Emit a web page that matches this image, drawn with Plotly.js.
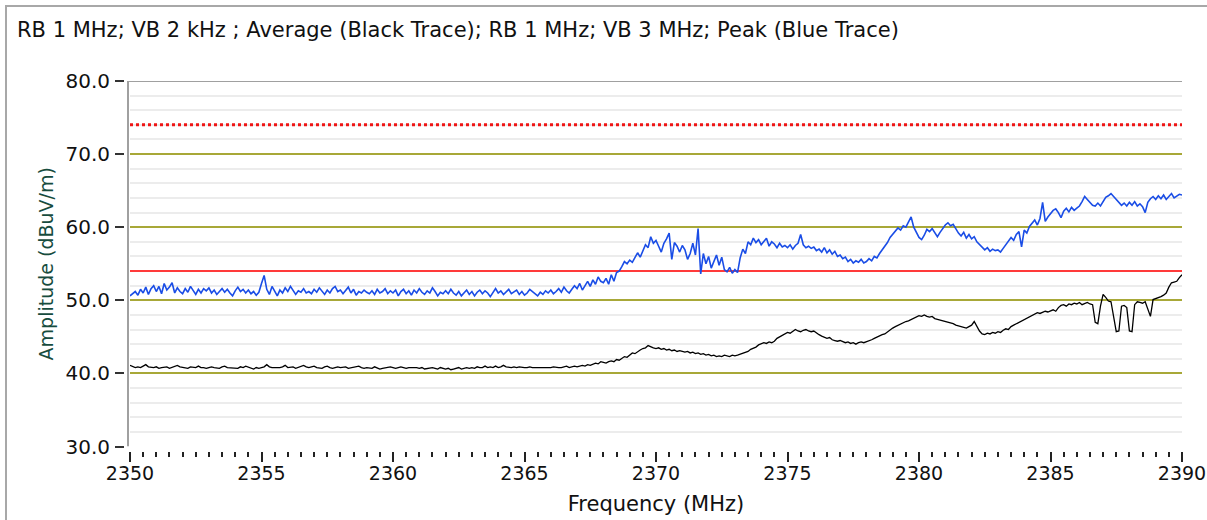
<!DOCTYPE html>
<html>
<head>
<meta charset="utf-8">
<script src="https://cdn.plot.ly/plotly-3.0.1.min.js"></script>
<style>
html, body { margin: 0; padding: 0; background: #ffffff; }
#chart { width: 1207px; height: 520px; }
</style>
</head>
<body>
<div id="chart"></div>
<script>
// Frequency grid (MHz) for both traces: 2350.0 ... 2390.0 in 0.1 MHz steps
const freqStart = 2350.0;
const freqStep = 0.1;

// Peak trace (blue), dBuV/m, one row per MHz
const peakBlue = [
  50.6, 50.9, 51.2, 50.7, 51.5, 51.0, 51.8, 50.8, 51.6, 52.0,
  51.2, 51.9, 50.9, 52.3, 51.4, 51.8, 52.4, 51.0, 51.7, 51.2,
  50.9, 51.6, 51.1, 51.9, 51.3, 50.8, 51.5, 51.0, 51.6, 51.3,
  51.7, 51.0, 51.4, 50.8, 51.2, 51.6, 51.1, 51.5, 51.0, 50.6,
  51.3, 51.8, 51.2, 51.5, 51.0, 51.4, 50.9, 51.2, 50.7, 51.1,
  52.3, 53.4, 51.5, 50.8, 51.9, 51.2, 50.6, 51.4, 51.0, 51.7,
  51.2, 51.9, 51.4, 50.8, 51.3, 51.1, 51.6, 51.0, 51.2, 50.9,
  51.5, 51.1, 51.7, 51.3, 50.8, 51.4, 51.0, 51.6, 51.9, 51.2,
  51.4, 50.9, 51.3, 51.8, 51.0, 51.5, 50.7, 51.2, 51.0, 51.4,
  51.1, 50.9, 51.3, 50.8, 51.5, 51.0, 51.2, 51.6, 50.9, 51.3,
  51.0, 51.4, 50.6, 51.2, 51.5, 50.9, 51.3, 50.7, 51.4, 51.0,
  51.6, 51.1, 50.8, 51.3, 51.0, 51.7, 51.2, 50.6, 51.1, 50.9,
  51.3, 50.9, 51.5, 51.0, 50.7, 51.2, 50.6, 51.0, 51.4, 50.8,
  51.2, 50.6, 51.1, 51.4, 50.9, 51.3, 51.0, 50.5, 51.1, 51.6,
  51.0, 51.3, 50.8, 51.2, 51.5, 50.9, 51.1, 51.4, 50.8, 51.2,
  50.7, 51.0, 51.5, 51.2, 50.9, 50.6, 51.1, 50.8, 51.3, 51.0,
  51.4, 50.9, 51.2, 51.6, 51.1, 51.8, 51.3, 51.0, 51.5, 52.0,
  51.6, 52.3, 51.4, 52.0, 52.6, 51.9, 52.8, 52.2, 53.2, 52.6,
  52.4, 53.0, 52.2, 53.5, 52.6, 53.8, 54.0, 54.6, 55.3, 55.0,
  55.5, 55.2, 55.8, 56.5, 55.9, 56.8, 57.6, 57.2, 58.7, 57.8,
  58.2, 57.4, 56.6, 57.8, 58.4, 59.2, 55.6, 57.9, 57.4, 56.6,
  57.5, 56.9, 55.6, 56.4, 57.8, 56.2, 59.8, 53.6, 56.4, 55.0,
  56.0, 54.4, 55.3, 56.2, 54.8, 55.9, 54.2, 53.9, 54.5, 53.7,
  54.2, 53.8, 55.8, 57.0, 56.4, 58.0, 57.6, 58.5, 57.9, 58.3,
  57.6, 58.1, 58.5, 57.4, 58.0, 57.7, 57.2, 57.8, 57.3, 57.5,
  57.2, 57.6, 57.0, 57.5, 57.8, 59.0, 57.6, 57.2, 57.4, 57.1,
  57.3, 56.8, 57.0, 56.6, 57.2, 56.5, 56.9, 56.3, 56.7, 56.0,
  56.2, 55.7, 55.9, 55.3, 55.6, 55.1, 55.4, 55.2, 55.6, 55.1,
  55.3, 55.7, 55.4, 56.0, 55.8, 56.4, 56.9, 57.4, 57.9, 58.6,
  59.0, 59.4, 59.9, 59.6, 60.2, 60.0, 60.6, 61.4, 60.0, 59.2,
  58.6, 58.3, 58.9, 59.7, 59.4, 59.8, 59.2, 58.7, 59.3, 59.8,
  60.3, 60.6, 60.2, 60.4, 59.8, 59.2, 58.8, 59.3, 58.5, 59.0,
  58.4, 58.7, 58.0, 57.6, 57.2, 56.9, 57.2, 56.7, 57.0, 56.8,
  56.9, 56.6, 57.1, 57.6, 58.1, 58.6, 58.2, 59.0, 59.4, 57.3,
  59.6, 59.2, 60.1, 60.6, 61.0, 60.3, 61.2, 63.4, 60.8, 61.4,
  61.9, 62.3, 62.5, 62.0, 61.3, 62.2, 62.6, 62.1, 62.7, 62.3,
  62.6, 62.9, 63.5, 64.2, 63.8, 63.4, 63.0, 62.9, 63.3, 62.9,
  63.6, 64.1, 64.3, 64.6, 64.2, 63.8, 63.4, 63.0, 63.3, 62.9,
  63.4, 63.0, 63.5, 62.9, 63.2, 62.8, 62.0, 63.4, 63.9, 64.2,
  63.8, 64.3, 63.9, 64.4, 63.8, 64.2, 64.6, 64.0, 64.3, 64.5,
  64.4
];

// Average trace (black), dBuV/m, one row per MHz
const averageBlack = [
  41.1, 40.9, 40.8, 40.9, 40.8, 41.0, 41.2, 40.9, 40.8, 40.8,
  40.9, 40.7, 40.8, 40.8, 40.9, 40.7, 40.8, 40.9, 41.1, 40.9,
  40.8, 40.8, 40.7, 40.9, 40.8, 40.8, 41.0, 40.8, 40.8, 40.7,
  40.8, 40.9, 40.8, 40.8, 40.7, 40.9, 41.0, 40.8, 40.8, 40.7,
  40.8, 40.7, 40.9, 40.8, 41.0, 40.9, 40.8, 40.6, 40.8, 40.7,
  40.8, 40.9, 41.2, 40.9, 40.8, 40.8, 40.7, 40.8, 40.9, 41.1,
  40.8, 40.8, 40.9, 40.7, 40.8, 40.9, 41.1, 40.9, 40.8, 40.9,
  41.0, 40.8, 40.8, 40.7, 40.9, 41.0, 40.8, 40.7, 40.8, 40.9,
  40.8, 40.8, 40.9, 40.7, 40.8, 40.8, 40.9, 41.0, 40.8, 40.7,
  40.8, 40.8, 40.7, 40.9, 40.8, 40.6, 40.7, 40.8, 40.8, 40.9,
  40.8, 40.7, 40.8, 40.9, 40.8, 40.7, 40.8, 40.8, 40.9, 40.8,
  40.7, 40.8, 40.6, 40.7, 40.8, 40.8, 40.7, 40.6, 40.8, 40.7,
  40.6, 40.7, 40.5, 40.6, 40.7, 40.8, 40.6, 40.7, 40.8, 40.7,
  40.8, 40.7, 40.9, 40.8, 40.8, 41.0, 40.8, 40.9, 40.8, 41.0,
  40.8, 40.9, 41.1, 40.9, 40.8, 40.8, 40.9, 40.8, 40.9, 40.8,
  40.8, 40.8, 40.9, 40.8, 40.8, 40.8, 40.8, 40.7, 40.8, 40.8,
  40.8, 40.9, 40.8, 40.8, 40.8, 40.9, 41.0, 40.8, 40.9, 41.0,
  40.9, 41.0, 41.1, 41.0, 41.2, 41.1, 41.3, 41.4, 41.3, 41.6,
  41.5, 41.4, 41.6, 41.7, 41.6, 41.9, 41.8, 42.0, 42.3, 42.2,
  42.5, 42.8, 42.7, 43.0, 43.2, 43.4, 43.5, 43.8, 43.6, 43.5,
  43.4, 43.5, 43.3, 43.4, 43.2, 43.3, 43.1, 43.2, 43.0, 43.1,
  43.0, 42.9, 43.0, 42.8, 42.9, 42.7, 42.8, 42.6, 42.7, 42.5,
  42.6, 42.4, 42.5, 42.3, 42.4, 42.3, 42.5, 42.4, 42.3, 42.5,
  42.4, 42.5, 42.6, 42.7, 42.9, 43.0, 43.3, 43.4, 43.6, 43.9,
  44.0, 44.2, 44.1, 44.3, 44.2, 44.4, 44.8, 45.0, 45.2, 45.3,
  45.6, 45.5, 45.8, 46.0, 45.8, 45.7, 45.9, 46.0, 45.8, 45.7,
  45.8, 45.5, 45.3, 45.1, 45.0, 44.8, 44.9, 44.6, 44.5, 44.4,
  44.5, 44.3, 44.2, 44.3, 44.1, 44.2, 44.0, 44.2, 44.3, 44.2,
  44.3, 44.5, 44.6, 44.8, 45.0, 45.1, 45.3, 45.4, 45.7, 45.9,
  46.2, 46.4, 46.6, 46.8, 46.9, 47.1, 47.2, 47.4, 47.6, 47.7,
  47.9, 47.8, 48.0, 47.8, 47.7, 47.8, 47.5, 47.4, 47.3, 47.2,
  47.2, 47.0, 46.9, 46.8, 46.6, 46.5, 46.4, 46.3, 46.2, 46.4,
  46.6, 47.1, 46.4, 45.8, 45.4, 45.3, 45.5, 45.4, 45.6, 45.5,
  45.7, 45.6, 45.9, 46.1, 46.0, 46.4, 46.6, 46.8, 47.0, 47.2,
  47.4, 47.6, 47.8, 48.0, 48.2, 48.3, 48.2, 48.4, 48.5, 48.4,
  48.6, 48.7, 48.5, 49.0, 49.3, 49.4, 49.2, 49.5, 49.4, 49.6,
  49.5, 49.7, 49.4, 49.6, 49.7, 49.5, 49.4, 47.0, 46.8, 49.2,
  50.8, 50.4, 49.9, 49.8, 47.5, 45.7, 45.8, 49.2, 49.3, 49.0,
  45.8, 45.7, 49.4, 49.8, 49.7, 49.6, 49.8, 48.9, 47.8, 50.1,
  50.2, 50.4, 50.5, 50.7, 51.0, 51.8, 52.4, 52.5, 52.6, 53.1,
  53.5
];

// Limit lines (dBuV/m)
const limitAverage = 54;   // solid red
const limitPeak = 74;      // dotted red
const limitSpan = [2350, 2390];

// Axis ticks
const yTickVals = [30, 40, 50, 60, 70, 80];
const yTickText = ["30.0", "40.0", "50.0", "60.0", "70.0", "80.0"];
const xTickVals = [2350, 2355, 2360, 2365, 2370, 2375, 2380, 2385, 2390];
const xTickText = ["2350", "2355", "2360", "2365", "2370", "2375", "2380", "2385", "2390"];

const titleText = "RB 1 MHz; VB 2 kHz ; Average (Black Trace); RB 1 MHz; VB 3 MHz; Peak (Blue Trace)";
const xTitle = "Frequency (MHz)";
const yTitle = "Amplitude (dBuV/m)";

// Build x arrays from the frequency grid
const freqs = peakBlue.map((_, i) => +(freqStart + i * freqStep).toFixed(1));

const FONT = "DejaVu Sans, Verdana, sans-serif";

const traces = [
  {
    x: limitSpan, y: [limitAverage, limitAverage], mode: "lines",
    line: { color: "#ff3a3a", width: 2 }, hoverinfo: "skip"
  },
  {
    x: limitSpan, y: [limitPeak, limitPeak], mode: "lines",
    line: { color: "#ee1515", width: 3, dash: "3px,3px" }, hoverinfo: "skip"
  },
  {
    x: freqs, y: averageBlack, mode: "lines",
    line: { color: "#000000", width: 1.3 }
  },
  {
    x: freqs, y: peakBlue, mode: "lines",
    line: { color: "#1a4de6", width: 1.6 }
  }
];

const W = 1207, H = 520;
const mL = 124, mR = 25, mT = 81, mB = 69;
const pw = W - mL - mR, ph = H - mT - mB;
const px2x = p => (p - mL) / pw;
const py2y = p => (H - mB - p) / ph;

const layout = {
  width: W, height: H,
  margin: { l: mL, r: mR, t: mT, b: mB, pad: 0 },
  paper_bgcolor: "#ffffff",
  plot_bgcolor: "#ffffff",
  showlegend: false,
  font: { family: FONT, size: 19, color: "#111111" },
  title: {
    text: titleText,
    font: { family: FONT, size: 21, color: "#111111" },
    xref: "container", yref: "container",
    x: 17 / W, xanchor: "left",
    y: 1 - 30 / H, yanchor: "middle"
  },
  xaxis: {
    range: [2350, 2390],
    domain: [px2x(130), 1],
    anchor: "free", position: 0,
    showline: false, showgrid: false, zeroline: false,
    tickmode: "array", tickvals: xTickVals, ticktext: xTickText,
    ticks: "outside", ticklen: 10, tickwidth: 2, tickcolor: "#222222",
    tickfont: { family: FONT, size: 19, color: "#111111" },
    ticklabeloverflow: "allow",
    ticklabelstandoff: -5,
    minor: { dtick: 0.5, tick0: 2350, ticks: "outside", ticklen: 5, tickwidth: 2, tickcolor: "#222222", showgrid: false },
    title: { text: xTitle, font: { family: FONT, size: 21, color: "#111111" }, standoff: 13 },
    automargin: false, fixedrange: true
  },
  yaxis: {
    range: [30, 80],
    domain: [py2y(446.5), 1],
    anchor: "free", position: 0,
    showline: false, zeroline: false,
    tickmode: "array", tickvals: yTickVals, ticktext: yTickText,
    ticks: "outside", ticklen: 9, tickwidth: 2, tickcolor: "#333333",
    showgrid: true, gridcolor: "#a8a838", gridwidth: 2,
    minor: { dtick: 2, tick0: 30, showgrid: true, gridcolor: "#ececec", gridwidth: 2, ticks: "" },
    tickfont: { family: FONT, size: 20, color: "#111111" },
    ticklabelstandoff: 1,
    title: { text: yTitle, font: { family: FONT, size: 19, color: "#174c3e" }, standoff: 5 },
    automargin: false, fixedrange: true
  },
  shapes: [
    // plot frame: left axis line and top border
    { type: "line", xref: "paper", yref: "y", x0: px2x(128), x1: px2x(128), y0: 30, y1: 80,
      line: { color: "#a0a0a0", width: 2 }, layer: "above" },
    { type: "line", xref: "paper", yref: "y", x0: px2x(127), x1: 1, y0: 80, y1: 80,
      line: { color: "#a0a0a0", width: 2 }, layer: "above" },
    // outer panel frame
    { type: "line", xref: "paper", yref: "paper", x0: px2x(6), x1: px2x(6), y0: py2y(5), y1: py2y(540),
      line: { color: "#a8a8a8", width: 2 } },
    { type: "line", xref: "paper", yref: "paper", x0: px2x(5), x1: px2x(1230), y0: py2y(6), y1: py2y(6),
      line: { color: "#a8a8a8", width: 2 } }
  ]
};

Plotly.newPlot("chart", traces, layout, { staticPlot: true, displayModeBar: false });
</script>
</body>
</html>
